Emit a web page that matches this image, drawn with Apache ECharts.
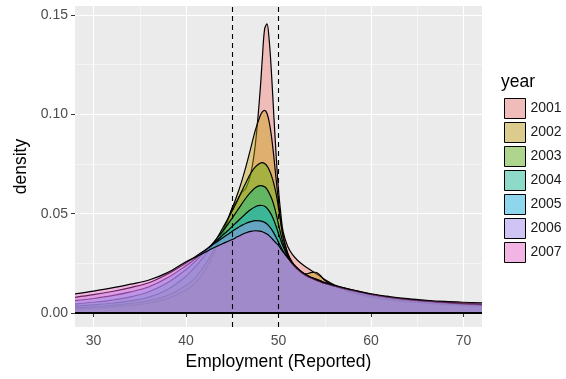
<!DOCTYPE html>
<html><head><meta charset="utf-8">
<script src="https://cdn.jsdelivr.net/npm/echarts@6/dist/echarts.min.js"></script>
<style>html,body{margin:0;padding:0;background:#fff}#c{width:566px;height:379px}</style>
</head><body><div id="c"></div>
<script>
const years = ['2001','2002','2003','2004','2005','2006','2007'];
const xs = [28,30,32,34,36,38,40,41,42,43,44,44.5,45,45.5,46,46.5,47,47.5,48,48.25,48.5,48.75,49,49.25,49.5,49.75,50,50.25,50.5,51,51.5,52,52.5,53,53.5,54,54.5,55,56,57,58,60,62,64,66,68,70,72];
const d2001 = [.0020,.0024,.0030,.0038,.0050,.0072,.0115,.0150,.0210,.0300,.0400,.0460,.0530,.0565,.0605,.0630,.0700,.0850,.1110,.1280,.1430,.1455,.1370,.1200,.0990,.0790,.0620,.0500,.0410,.0335,.0295,.0268,.0248,.0230,.0215,.0200,.0185,.0168,.0142,.0120,.0102,.0080,.0066,.0056,.0048,.0042,.0037,.0034];
const d2002 = [.0026,.0031,.0038,.0048,.0062,.0088,.0138,.0178,.0238,.0318,.0415,.0470,.0528,.0590,.0660,.0740,.0830,.0920,.0990,.1012,.1020,.1005,.0960,.0885,.0785,.0670,.0560,.0460,.0380,.0300,.0250,.0220,.0202,.0197,.0203,.0205,.0190,.0165,.0136,.0118,.0104,.0086,.0072,.0062,.0054,.0047,.0042,.0038];
const d2003 = [.0035,.0041,.0049,.0061,.0080,.0118,.0185,.0232,.0288,.0350,.0430,.0472,.0515,.0560,.0610,.0658,.0703,.0735,.0754,.0757,.0752,.0740,.0720,.0690,.0650,.0598,.0530,.0452,.0385,.0300,.0255,.0228,.0207,.0190,.0180,.0172,.0163,.0153,.0138,.0126,.0115,.0094,.0079,.0068,.0060,.0053,.0047,.0042];
const d2004 = [.0045,.0054,.0065,.0081,.0107,.0152,.0218,.0260,.0306,.0357,.0414,.0445,.0478,.0512,.0547,.0580,.0608,.0630,.0641,.0640,.0635,.0623,.0603,.0577,.0543,.0498,.0447,.0397,.0352,.0290,.0250,.0225,.0205,.0190,.0178,.0168,.0158,.0150,.0137,.0125,.0114,.0094,.0079,.0068,.0060,.0053,.0047,.0042];
const d2005 = [.0062,.0073,.0087,.0106,.0132,.0177,.0238,.0273,.0311,.0351,.0393,.0414,.0436,.0458,.0480,.0502,.0521,.0535,.0542,.0541,.0537,.0528,.0513,.0493,.0466,.0435,.0400,.0366,.0335,.0285,.0248,.0222,.0203,.0188,.0176,.0166,.0157,.0149,.0136,.0124,.0113,.0093,.0078,.0067,.0059,.0052,.0046,.0041];
const d2006 = [.0079,.0092,.0108,.0128,.0152,.0196,.0252,.0283,.0315,.0347,.0379,.0395,.0411,.0426,.0440,.0452,.0460,.0465,.0464,.0461,.0456,.0448,.0436,.0421,.0402,.0380,.0356,.0333,.0312,.0277,.0247,.0222,.0203,.0188,.0176,.0166,.0157,.0149,.0136,.0124,.0113,.0094,.0079,.0068,.0060,.0054,.0048,.0044];
const d2007 = [.0096,.0110,.0126,.0145,.0166,.0203,.0258,.0280,.0304,.0328,.0350,.0360,.0370,.0382,.0394,.0404,.0411,.0414,.0412,.0409,.0404,.0397,.0388,.0377,.0364,.0352,.0340,.0323,.0306,.0278,.0250,.0227,.0208,.0192,.0180,.0170,.0161,.0153,.0140,.0128,.0117,.0097,.0083,.0072,.0064,.0058,.0054,.0051];
const densities = [d2001,d2002,d2003,d2004,d2005,d2006,d2007];
const xTicks = [30,40,50,60,70];
const xMinor = [35,45,55,65];
const yTicks = [0,0.05,0.10,0.15];
const yMinor = [0.025,0.075,0.125];
const vLines = [45,50];

const colors = ['#F8766D','#C49A00','#53B400','#00C094','#00B6EB','#A58AFF','#FB61D7'];
const FONT = '"Liberation Sans", Arial, Helvetica, sans-serif';
function rgba(hex,a){const n=parseInt(hex.slice(1),16);return `rgba(${n>>16},${(n>>8)&255},${n&255},${a})`;}
function blend(hex,a,bg){const n=parseInt(hex.slice(1),16);const c=[n>>16,(n>>8)&255,n&255].map(v=>Math.round(a*v+(1-a)*bg));return `rgb(${c.join(',')})`;}

const chart = echarts.init(document.getElementById('c'), null, {renderer:'canvas'});
const series = years.map((y,i)=>({
  type:'line', name:y, xAxisIndex:0, yAxisIndex:0,
  data: xs.map((x,j)=>[x, densities[i][j]]),
  symbol:'none', showSymbol:false, smooth:0.35, silent:true,
  lineStyle:{color:'#000', width:1.2},
  itemStyle:{color:colors[i]},
  areaStyle:{color:rgba(colors[i],0.4), opacity:1},
  emphasis:{disabled:true},
  z:2+i
}));
series[series.length-1].markLine = {
  silent:true, symbol:'none', animation:false, z:30,
  label:{show:false},
  data: vLines.map(v=>({xAxis:v, lineStyle:{type:[5,4], color:'#000', width:1.1}}))
    .concat([{yAxis:0, lineStyle:{type:'solid', color:'#000', width:1.8}}])
};

chart.setOption({
  animation:false,
  textStyle:{fontFamily:FONT},
  grid:{left:75, right:84, top:6, bottom:52, show:true, backgroundColor:'#EBEBEB', borderWidth:0, containLabel:false},
  xAxis:[{
    type:'value', min:28, max:72,
    axisLine:{show:false},
    axisTick:{show:true, length:4, customValues:xTicks, lineStyle:{color:'#333', width:1}},
    axisLabel:{customValues:xTicks, color:'#4D4D4D', fontSize:14, margin:7, fontFamily:FONT},
    splitLine:{show:true, lineStyle:{color:'#fff', width:1.1}},
    name:'Employment (Reported)', nameLocation:'middle', nameGap:26,
    nameTextStyle:{fontSize:17.5, color:'#000', fontFamily:FONT}
  },{
    type:'value', min:28, max:72, position:'top',
    axisLine:{show:false}, axisTick:{show:false, customValues:xMinor},
    axisLabel:{show:false}, splitLine:{show:true, lineStyle:{color:'#fff', width:0.5}}
  }],
  yAxis:[{
    type:'value', min:-0.00705, max:0.1545,
    axisLine:{show:false},
    axisTick:{show:true, length:4, customValues:yTicks, lineStyle:{color:'#333', width:1}},
    axisLabel:{customValues:yTicks, formatter:v=>v.toFixed(2), color:'#4D4D4D', fontSize:14, margin:7, fontFamily:FONT},
    splitLine:{show:true, lineStyle:{color:'#fff', width:1.1}},
    name:'density', nameLocation:'middle', nameGap:44,
    nameTextStyle:{fontSize:17.5, color:'#000', fontFamily:FONT}
  },{
    type:'value', min:-0.00705, max:0.1545, position:'right',
    axisLine:{show:false}, axisTick:{show:false, customValues:yMinor},
    axisLabel:{show:false}, splitLine:{show:true, lineStyle:{color:'#fff', width:0.5}}
  }],
  legend:{
    orient:'vertical', left:504, top:98, itemWidth:21, itemHeight:20, itemGap:3, padding:0,
    icon:'rect', selectedMode:false,
    textStyle:{fontSize:14, color:'#1a1a1a', fontFamily:FONT},
    data: years.map((y,i)=>({name:y, icon:'rect', itemStyle:{color:blend(colors[i],0.4,235), borderColor:'#000', borderWidth:1}}))
  },
  graphic:[{type:'text', left:501, top:73, silent:true,
    style:{text:'year', fontSize:17.5, fill:'#000', font:'17.5px '+FONT}}],
  series
});
</script></body></html>
